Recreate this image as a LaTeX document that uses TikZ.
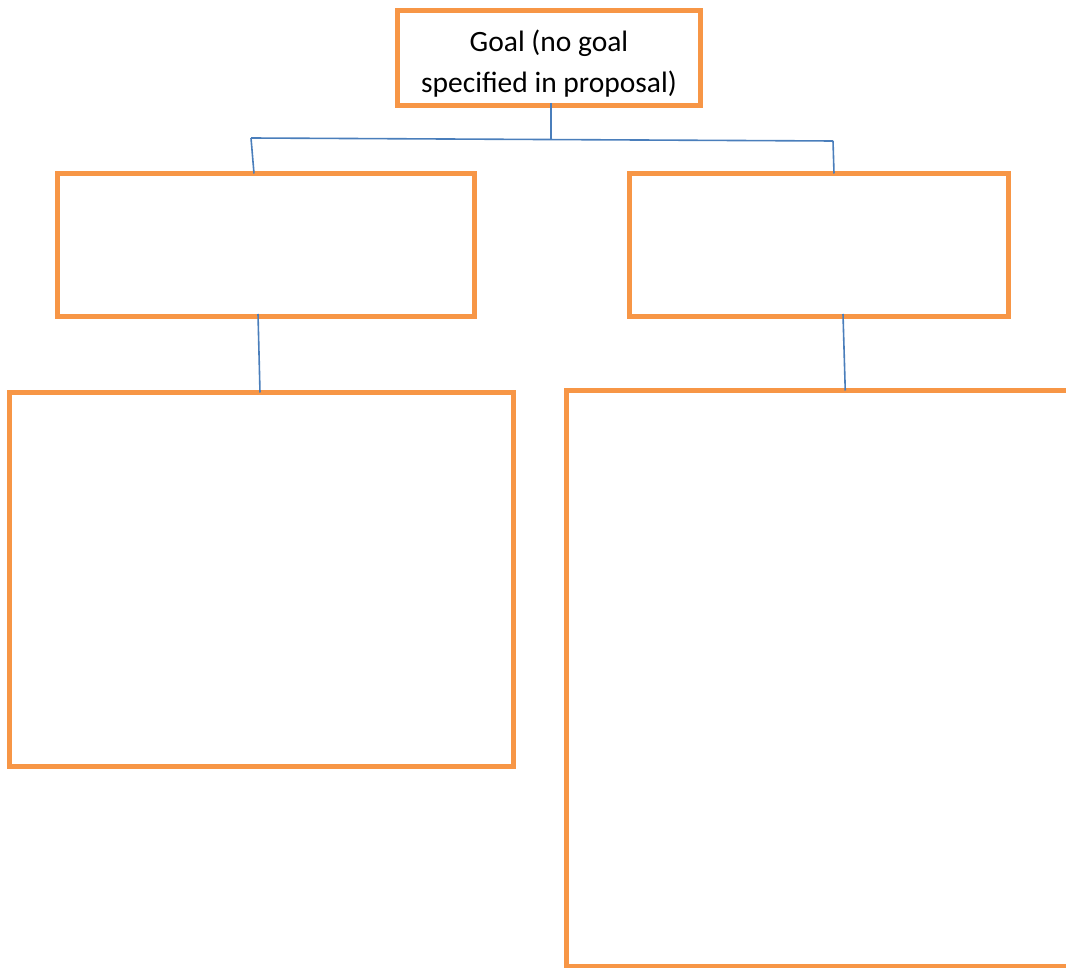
\documentclass[tikz,border=0pt]{standalone}
\usepackage{fontspec}
\setmainfont{Carlito}
\definecolor{boxorange}{HTML}{F79646}
\definecolor{linkblue}{HTML}{4A7EBB}
\tikzset{
  box/.style={draw=boxorange, line width=5pt, rectangle, inner sep=0pt, outer sep=0pt},
  conn/.style={draw=linkblue, line width=1.6pt}
}
\begin{document}
\begin{tikzpicture}[x=1pt,y=-1pt]
\useasboundingbox (0,0) rectangle (1066,968);
% boxes
\node[box, minimum width=303pt, minimum height=95pt, align=center,
      font=\fontsize{29.5pt}{41pt}\selectfont] (top) at (549,58)
      {\rule{0pt}{33pt}Goal (no goal\\specified in proposal)};
\node[box, minimum width=417pt, minimum height=143pt] (m1) at (266,245) {};
\node[box, minimum width=379pt, minimum height=143pt] (m2) at (819,245) {};
\node[box, minimum width=504pt, minimum height=374pt] (b1) at (261.5,579.5) {};
\node[box, minimum width=513.5pt, minimum height=575.5pt] (b2) at (823.25,678.25) {};
% bus coordinates
\coordinate (busL) at (251,138);
\coordinate (busC) at (551,139.5);
\coordinate (busR) at (833,141);
% connectors
\draw[conn] ([xshift=2pt,yshift=2.5pt]top.south) -- (busC);
\draw[conn] (busL) -- (busR);
\draw[conn] (busL) -- ([xshift=-12pt]m1.north);
\draw[conn] (busR) -- ([xshift=15pt]m2.north);
\draw[conn] ([xshift=-8pt,yshift=2.5pt]m1.south) -- ([xshift=-1.5pt]b1.north);
\draw[conn] ([xshift=24pt,yshift=2.5pt]m2.south) -- ([xshift=22pt]b2.north);
\end{tikzpicture}
\end{document}
